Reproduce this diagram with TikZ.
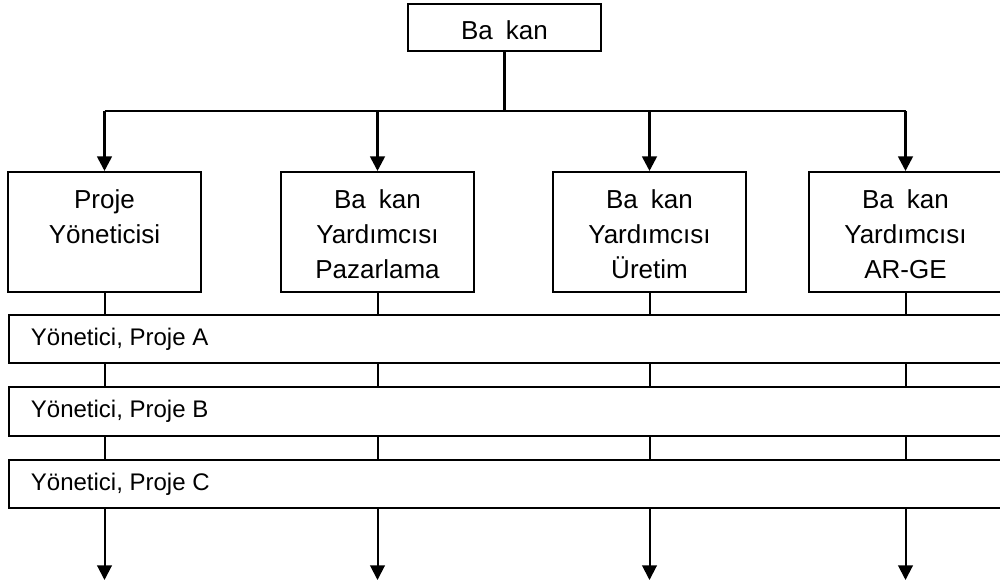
\documentclass[tikz,border=0pt]{standalone}
\usepackage{fontspec}
\setmainfont{Liberation Sans}
\usetikzlibrary{arrows.meta}
\begin{document}
\begin{tikzpicture}[x=0.75pt,y=-0.75pt,
  box/.style={draw, line width=1.5pt, inner sep=0pt},
  unit/.style={box, minimum width=193*0.75pt, minimum height=120*0.75pt},
  bar/.style={box, anchor=west, minimum width=1010*0.75pt, minimum height=48*0.75pt},
  lbl/.style={align=center, inner sep=0pt, anchor=north, font=\fontsize{19.5}{26.5}\selectfont},
  bartxt/.style={inner sep=0pt, anchor=west, font=\fontsize{18}{22}\selectfont},
  bus/.style={line width=2pt},
  link/.style={line width=1.5pt},
  arr/.style={-{Triangle[width=11pt,length=11pt]}}]
\useasboundingbox (0,0) rectangle (1000,586);
\clip (0,0) rectangle (1000,586);

% head of the organisation
\node[box, minimum width=193*0.75pt, minimum height=47*0.75pt,
      font=\fontsize{19.5}{24}\selectfont, text height=21pt, text depth=3.75pt]
      (head) at (504.5,27.5) {Ba\enspace kan};

% functional units
\node[unit] (pm) at (104.5,232) {};
\node[unit] (mk) at (377.5,232) {};
\node[unit] (pr) at (649.5,232) {};
\node[unit] (rd) at (905.5,232) {};
\node[lbl] (pmt) at (104.5,189) {Proje\\Yöneticisi};
\node[lbl] (mkt) at (377.5,189) {Ba\enspace kan\\Yardımcısı\\Pazarlama};
\node[lbl] (prt) at (649.5,189) {Ba\enspace kan\\Yardımcısı\\Üretim};
\node[lbl] (rdt) at (905.5,189) {Ba\enspace kan\\Yardımcısı\\AR-GE};

% project bars
\node[bar] (pa) at (8,339) {};
\node[bar, minimum height=49*0.75pt] (pb) at (8,411.5) {};
\node[bar] (pc) at (8,484) {};
\node[bartxt] (pat) at ([xshift=17pt]pa.west) {Yönetici, Proje A};
\node[bartxt] (pbt) at ([xshift=17pt]pb.west) {Yönetici, Proje B};
\node[bartxt] (pct) at ([xshift=17pt]pc.west) {Yönetici, Proje C};

% distribution bus from the head
\coordinate (busc) at (504.5,111);
\draw[bus] (head.south) -- (busc);
\draw[bus] (busc -| pm.north) -- (busc -| rd.north);
\foreach \u in {pm,mk,pr,rd}
  \draw[bus, arr] (busc -| \u.north) -- (\u.north);

% vertical links through the matrix
\foreach \u/\e in {pm/e1,mk/e2,pr/e3,rd/e4} {
  \coordinate (\e) at (\u.south |- 0,580);
  \draw[link] (\u.south) -- (\u.south |- pa.north);
  \draw[link] (\u.south |- pa.south) -- (\u.south |- pb.north);
  \draw[link] (\u.south |- pb.south) -- (\u.south |- pc.north);
  \draw[link, arr] (\u.south |- pc.south) -- (\e);
}
\end{tikzpicture}
\end{document}
